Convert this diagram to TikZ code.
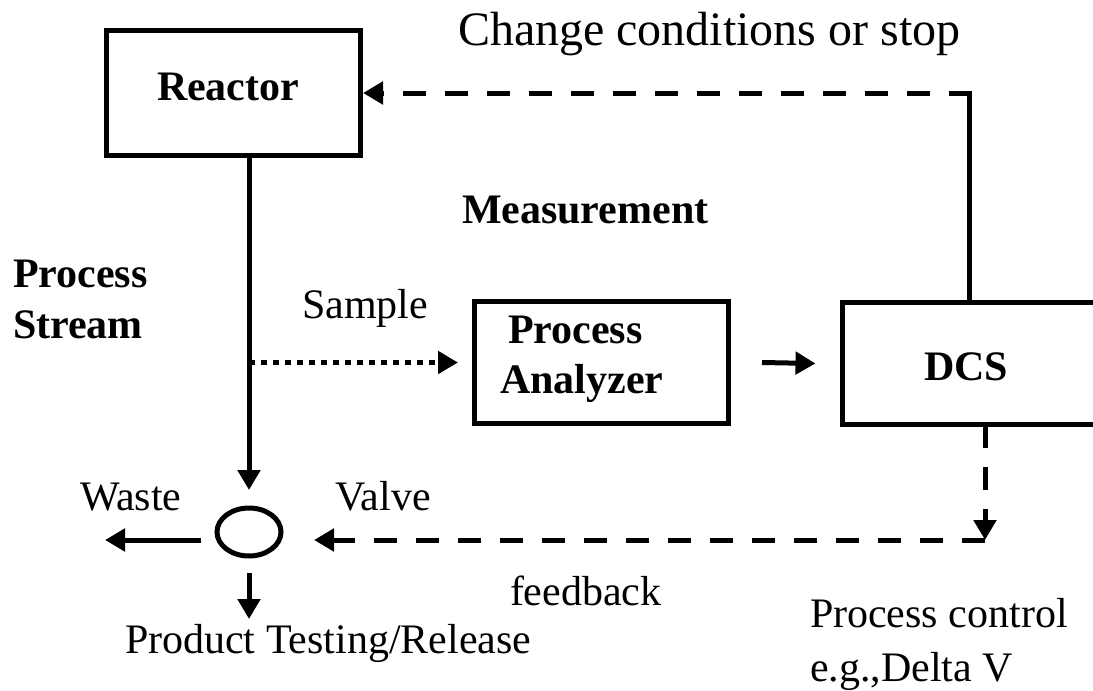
\documentclass[tikz,border=0pt]{standalone}
\usepackage{fontspec}
\setmainfont{Liberation Serif}
\usetikzlibrary{arrows.meta,shapes.geometric}
\begin{document}
\begin{tikzpicture}[x=1pt,y=-1pt,
  every node/.style={inner sep=0pt, outer sep=0pt},
  txt/.style={font=\fontsize{42}{50}\selectfont, anchor=base west},
  btxt/.style={font=\fontsize{42}{50}\selectfont\bfseries, anchor=base west},
  box/.style={draw, line width=5pt, rectangle, minimum width=254pt, minimum height=122pt},
  flow/.style={line width=5pt, -{Triangle[length=20pt,width=22pt]}},
  ctrl/.style={flow, dash pattern=on 23pt off 19pt},
  probe/.style={flow, dash pattern=on 6pt off 6pt},
]
\useasboundingbox (0,0) rectangle (1093,691);

% blocks
\node[box, minimum height=125pt] (reactor) at (233.5,93) {};
\node[box] (pa) at (601,362.5) {};
\node[box] (dcs) at (969.5,363.5) {};
\node[draw, ellipse, line width=5pt, minimum width=64pt, minimum height=48pt] (valve) at (249,532) {};

% block labels
\node[btxt] (reactorlbl) at (157,100) {Reactor};
\node[btxt] (palbla) at (508,343) {Process};
\node[btxt] (palblb) at (500,393) {Analyzer};
\node[btxt] (dcslbl) at (924,380) {DCS};

% free labels
\node[txt, font=\fontsize{48}{56}\selectfont] (chg) at (458,45) {Change conditions or stop};
\node[btxt] (meas) at (462,223) {Measurement};
\node[btxt] (psa) at (13,287) {Process};
\node[btxt] (psb) at (13,338) {Stream};
\node[txt] (sample) at (302,318) {Sample};
\node[txt] (waste) at (80,510) {Waste};
\node[txt] (valvelbl) at (335,510) {Valve};
\node[txt] (product) at (125,653) {Product Testing/Release};
\node[txt] (fb) at (510,605) {feedback};
\node[txt] (pca) at (810,627) {Process control};
\node[txt] (pcb) at (810,681) {e.g.,Delta V};

% helper points
\coordinate (s0) at ([xshift=15.5pt]reactor.south);
\coordinate (sp) at (s0 |- pa.west);
\coordinate (topc) at (dcs.north |- reactor.east);
\coordinate (dd) at ([xshift=15.5pt]dcs.south);
\coordinate (ve) at ([yshift=-8pt]valve.east);
\coordinate (bc) at (dd |- ve);
\coordinate (wasteend) at (105,540);
\coordinate (prodend) at (249,619);

% process stream
\draw[flow] (s0) -- ([yshift=18pt]valve.north);
\draw[probe] (sp) -- ([xshift=-16pt]pa.west);
\draw[flow] ([xshift=34pt]pa.east) -- ([xshift=-27pt]dcs.west);

% control loop back to reactor
\draw[line width=5pt] (dcs.north) -- ([yshift=2.5pt]topc);
\draw[ctrl, shorten >=2.5pt] ([xshift=2.5pt]topc) -- (reactor.east);

% feedback to valve
\draw[ctrl] (dd) -- (bc);
\draw[ctrl, shorten >=33pt] (bc) -- (ve);

% valve outlets
\draw[flow] ([shift={(-16pt,-8pt)}]valve.west) -- (wasteend);
\draw[flow] ([yshift=-17pt]valve.south) -- (prodend);
\end{tikzpicture}
\end{document}
